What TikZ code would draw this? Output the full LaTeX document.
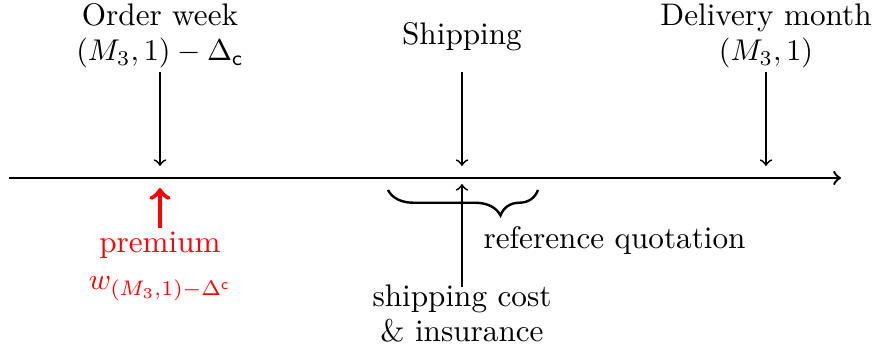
\documentclass[tikz,border=0pt]{standalone}
\usetikzlibrary{decorations.pathreplacing}
\begin{document}
\begin{tikzpicture}[x=0.3333pt,y=-0.3333pt,
  every node/.style={font=\fontsize{10.4}{11.7}\selectfont},
  lbl/.style={inner sep=0pt,align=center},
  tickarrow/.style={->,semithick},
  axisline/.style={->,thick},
  redtext/.style={inner sep=0pt,text=red},
  bracestyle/.style={thick,decorate,decoration={brace,mirror,amplitude=8.5pt,aspect=0.75}}]
\useasboundingbox (0,0) rectangle (875,358);
% axis
\coordinate (a0) at (9,178);
\coordinate (a1) at (841,178);
\draw[axisline] (a0) -- (a1);
% top labels
\node[lbl,anchor=base] (ow) at (160,61) {Order week\\$(M_3,1)-\Delta_{\mathsf{c}}$};
\node[lbl,anchor=base] (sh) at (462,45) {Shipping};
\node[lbl,anchor=base] (dm) at (766,61) {Delivery month\\$(M_3,1)$};
\coordinate (t1s) at (160,72);
\coordinate (t1e) at (160,166);
\coordinate (t2s) at (462,72);
\coordinate (t2e) at (462,166);
\coordinate (t3s) at (766,72);
\coordinate (t3e) at (766,166);
\draw[tickarrow] (t1s) -- (t1e);
\draw[tickarrow] (t2s) -- (t2e);
\draw[tickarrow] (t3s) -- (t3e);
% premium
\coordinate (p0) at (160,228);
\coordinate (p1) at (160,188);
\draw[->,line width=1.5pt,red] (p0) -- (p1);
\node[redtext,anchor=base] (prem) at (160,253) {premium};
\node[redtext,anchor=base] (w) at (160,290) {$w_{(M_3,1)-\Delta^{\mathsf{c}}}$};
% brace
\coordinate (b0) at (388,190);
\coordinate (b1) at (538,190);
\draw[bracestyle] (b0) -- (b1);
\node[lbl,anchor=base west] (rq) at (483,249) {reference quotation};
% shipping cost
\node[lbl,anchor=base] (sc) at (462,342) {shipping cost\\\& insurance};
\coordinate (u0) at (462,287);
\coordinate (u1) at (462,184);
\draw[tickarrow] (u0) -- (u1);
\end{tikzpicture}
\end{document}
